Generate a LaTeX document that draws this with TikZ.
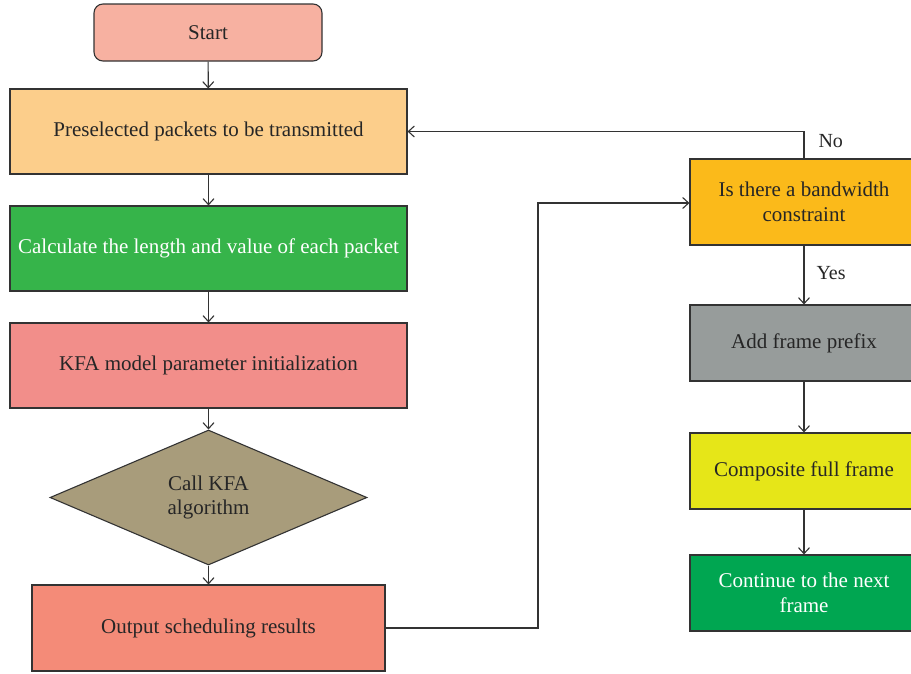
\documentclass[tikz,border=0pt]{standalone}
\usepackage{fontspec}
\setmainfont{Liberation Serif}
\usetikzlibrary{arrows.meta,shapes.geometric}
\definecolor{cstart}{HTML}{F7B1A1}
\definecolor{cpre}{HTML}{FCCE8B}
\definecolor{ccalc}{HTML}{36B44A}
\definecolor{ckfa}{HTML}{F28E8A}
\definecolor{cdia}{HTML}{A89C7B}
\definecolor{cout}{HTML}{F48B78}
\definecolor{cband}{HTML}{FBBA1A}
\definecolor{cadd}{HTML}{979C9B}
\definecolor{ccomp}{HTML}{E6E618}
\definecolor{ccont}{HTML}{00A651}
\definecolor{cline}{HTML}{333333}
\tikzset{
  box/.style={draw=cline, line width=1.1pt, rectangle, inner sep=0pt, align=center, text=black!85},
  flow/.style={draw=cline, line width=1.1pt, -{Straight Barb[length=6pt,width=11pt,line width=1.1pt]}},
  lbl/.style={font=\fontsize{20}{24}\selectfont, text=black!85}
}
\begin{document}
\begin{tikzpicture}[x=1pt,y=-1pt, font=\fontsize{21}{24.5}\selectfont]
\useasboundingbox (0,0) rectangle (911,673);
\begin{scope}
\clip (0,0) rectangle (911,673);
% left column
\node[box, fill=cstart, rounded corners=9pt, minimum width=228pt, minimum height=57pt] (start) at (208,32.5) {Start};
\node[box, fill=cpre, minimum width=397pt, minimum height=85pt] (pre) at (208.5,131.5) {Preselected packets to be transmitted};
\node[box, fill=ccalc, minimum width=397pt, minimum height=85pt, text=white] (calc) at (208.5,248.5) {Calculate the length and value of each packet};
\node[box, fill=ckfa, minimum width=397pt, minimum height=85pt] (kfa) at (208.5,365.5) {KFA model parameter initialization};
\node[box, diamond, fill=cdia, minimum width=317pt, minimum height=135pt, aspect=2.35] (call) at (208.5,497.5) {Call KFA\\algorithm};
\node[box, fill=cout, minimum width=353pt, minimum height=86pt] (out) at (208.5,628) {Output scheduling results};
% right column
\node[box, fill=cband, minimum width=228pt, minimum height=86pt] (band) at (804,202) {Is there a bandwidth\\constraint};
\node[box, fill=cadd, minimum width=228pt, minimum height=76pt] (add) at (804,343) {Add frame prefix};
\node[box, fill=ccomp, minimum width=228pt, minimum height=76pt] (comp) at (804,471) {Composite full frame};
\node[box, fill=ccont, minimum width=228pt, minimum height=76pt, text=white] (cont) at (804,593) {Continue to the next\\frame};
\end{scope}
% connectors
\draw[flow] (start) -- (pre);
\draw[flow] (pre) -- (calc);
\draw[flow] (calc) -- (kfa);
\draw[flow] (kfa) -- (call);
\draw[flow] (call) -- (out);
\coordinate (loopb) at (538,628);
\coordinate (loopt) at (538,203);
\draw[flow] (out.east) -- (loopb) -- (loopt) -- (band.west |- loopt);
\coordinate (noturn) at (804,131.5);
\draw[flow] (band.north) -- (noturn) -- (pre.east);
\node[lbl, anchor=west] (no) at (815,141) {No};
\draw[flow] (band) -- (add);
\node[lbl, anchor=west] (yes) at (813,273) {Yes};
\draw[flow] (add) -- (comp);
\draw[flow] (comp) -- (cont);
\end{tikzpicture}
\end{document}
